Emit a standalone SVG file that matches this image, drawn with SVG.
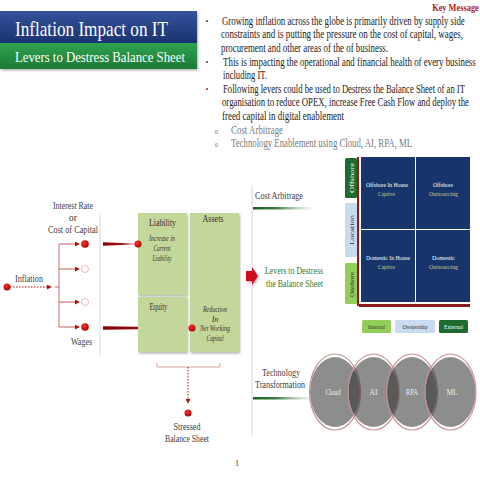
<svg xmlns="http://www.w3.org/2000/svg" width="480" height="480" viewBox="0 0 480 480">
<style>
text{font-family:"Liberation Serif","Times New Roman",serif}
.b{font-size:11.5px;fill:#1a1a1a}
.g{font-size:11.5px;fill:#7a7a7a}
.lbl{font-size:10px;fill:#404040}
.bs{font-size:10px;fill:#333}
.it{font-size:8px;fill:#333;font-style:italic}
.cell{font-size:7px;fill:#fff}
.cell2{font-size:7px;fill:#d8c27c}
.vl{font-size:7px}
.cir{font-size:7.5px;fill:#eee}
.box{fill:#c4d79b;filter:url(#sh)}
.thin{stroke:#d6d6d6;stroke-width:1;fill:none}
</style>
<defs>
<filter id="sh" x="-20%" y="-20%" width="140%" height="140%"><feDropShadow dx="1" dy="1.5" stdDeviation="1.2" flood-color="#000" flood-opacity="0.3"/></filter>
<linearGradient id="blue" x1="0" y1="0" x2="0" y2="1"><stop offset="0" stop-color="#34539b"/><stop offset="1" stop-color="#1b3270"/></linearGradient>
<linearGradient id="green" x1="0" y1="0" x2="0" y2="1"><stop offset="0" stop-color="#2fa350"/><stop offset="1" stop-color="#1c7a36"/></linearGradient>
<linearGradient id="redfade" x1="0" y1="0" x2="1" y2="0"><stop offset="0" stop-color="#8a0000"/><stop offset="0.6" stop-color="#a01818"/><stop offset="1" stop-color="#c06060" stop-opacity="0.6"/></linearGradient>
<linearGradient id="redfade2" x1="0" y1="0" x2="1" y2="0"><stop offset="0" stop-color="#8a0000"/><stop offset="0.5" stop-color="#9a1010"/><stop offset="1" stop-color="#b09070" stop-opacity="0.5"/></linearGradient>
<linearGradient id="gline" x1="0" y1="0" x2="1" y2="0"><stop offset="0" stop-color="#1e5e1e"/><stop offset="0.4" stop-color="#3d7d3d"/><stop offset="1" stop-color="#c8d8c8" stop-opacity="0.3"/></linearGradient>
<radialGradient id="dot" cx="0.4" cy="0.35" r="0.7"><stop offset="0" stop-color="#ff3030"/><stop offset="1" stop-color="#a00000"/></radialGradient>
<marker id="ah" viewBox="0 0 6 6" refX="5" refY="3" markerWidth="5" markerHeight="5" orient="auto"><path d="M0,0 L6,3 L0,6 Z" fill="#b01010"/></marker>
</defs>

<!-- Title banners -->
<g id="title">
<rect x="0" y="11" width="197" height="32" fill="url(#blue)" filter="url(#sh)"/>
<rect x="0" y="43" width="197" height="26" fill="url(#green)" filter="url(#sh)"/>
<g transform="scale(0.86,1)"><text x="17.4" y="36" font-size="20" fill="#fff" textLength="178" lengthAdjust="spacingAndGlyphs">Inflation Impact on IT</text></g>
<g transform="scale(0.85,1)"><text x="17.6" y="62" font-size="15" fill="#fff" textLength="200" lengthAdjust="spacingAndGlyphs">Levers to Destress Balance Sheet</text></g>
</g>

<!-- Key message (horizontally condensed like the reference) -->
<g id="keymessage" transform="scale(0.74,1)">
<text x="647" y="11.5" font-size="10.5" font-weight="bold" fill="#b31b1b" text-anchor="end" textLength="63" lengthAdjust="spacingAndGlyphs">Key Message</text>
<text x="278" y="24" font-size="9" fill="#222">•</text>
<text x="278" y="65" font-size="9" fill="#222">•</text>
<text x="278" y="92" font-size="9" fill="#222">•</text>
<text class="b" x="300" y="25" textLength="328" lengthAdjust="spacingAndGlyphs">Growing inflation across the globe is primarily driven by supply side</text>
<text class="b" x="298.6" y="38" textLength="327" lengthAdjust="spacingAndGlyphs">constraints and is putting the pressure on the cost of capital, wages,</text>
<text class="b" x="298.6" y="52" textLength="225.7" lengthAdjust="spacingAndGlyphs">procurement and other areas of the of business.</text>
<text class="b" x="301.4" y="66" textLength="341.5" lengthAdjust="spacingAndGlyphs">This is impacting  the operational and financial health of every business</text>
<text class="b" x="301.4" y="79" textLength="59.5" lengthAdjust="spacingAndGlyphs">including IT.</text>
<text class="b" x="301.4" y="93" textLength="327" lengthAdjust="spacingAndGlyphs">Following levers could be used to Destress the Balance Sheet of an IT</text>
<text class="b" x="300" y="106" textLength="333.8" lengthAdjust="spacingAndGlyphs">organisation to reduce OPEX, increase Free Cash Flow and deploy the</text>
<text class="b" x="300" y="120" textLength="164.9" lengthAdjust="spacingAndGlyphs">freed capital in digital enablement</text>
<text x="290.5" y="134" font-size="8" fill="#a04a4a">o</text>
<text x="290.5" y="147" font-size="8" fill="#a04a4a">o</text>
<text class="g" x="312.2" y="134" textLength="70.3" lengthAdjust="spacingAndGlyphs">Cost Arbitrage</text>
<text class="g" x="312.2" y="147" textLength="244.6" lengthAdjust="spacingAndGlyphs">Technology Enablement using Cloud, AI, RPA, ML</text>
</g>

<!-- separators -->
<g id="separators">
<line class="thin" x1="100" y1="215" x2="100" y2="355"/>
<line class="thin" x1="252" y1="185" x2="252" y2="435"/>
</g>

<!-- connectors -->
<g id="connectors" fill="none">
<line x1="10" y1="287" x2="51" y2="287" stroke="#b01010" stroke-width="1" stroke-dasharray="1.5,1.5" marker-end="url(#ah)"/>
<line x1="55" y1="287" x2="59" y2="287" stroke="#c06060" stroke-width="1"/>
<line x1="59" y1="244" x2="59" y2="327" stroke="#c87070" stroke-width="1"/>
<line x1="59" y1="244" x2="79" y2="244" stroke="#c06060" stroke-width="1" marker-end="url(#ah)"/>
<line x1="59" y1="269" x2="79" y2="269" stroke="#c06060" stroke-width="1" marker-end="url(#ah)"/>
<line x1="59" y1="302" x2="79" y2="302" stroke="#c06060" stroke-width="1" marker-end="url(#ah)"/>
<line x1="59" y1="327" x2="79" y2="327" stroke="#c06060" stroke-width="1" marker-end="url(#ah)"/>
<polygon points="103,242.3 135,243.6 135,244.4 103,245.7" fill="url(#redfade)"/>
<polygon points="103,326.3 188,327.6 188,328.4 103,329.7" fill="url(#redfade2)"/>
<path d="M157,363 V367 H220 V363" stroke="#d8a0a0" stroke-width="1"/>
<line x1="188" y1="367" x2="188" y2="403" stroke="#b01010" stroke-width="1" stroke-dasharray="1.5,1.5" marker-end="url(#ah)"/>
<rect x="253" y="207" width="58" height="2.5" fill="url(#gline)"/>
<rect x="253" y="397" width="58" height="2.5" fill="url(#gline)"/>
<path d="M246,271 L252,271 L252,267 L258,276 L252,285 L252,281 L246,281 Z" fill="#d0101a" filter="url(#sh)" stroke="none"/>
</g>

<!-- left driver nodes -->
<g id="inflation">
<circle cx="7" cy="287" r="3.5" fill="url(#dot)"/>
<text class="lbl" x="15" y="282" textLength="28" lengthAdjust="spacingAndGlyphs">Inflation</text>
</g>
<g id="interest">
<circle cx="85" cy="244" r="3.8" fill="url(#dot)"/>
<text class="lbl" x="73" y="209" text-anchor="middle" textLength="40" lengthAdjust="spacingAndGlyphs">Interest Rate</text>
<text class="lbl" x="73" y="221" text-anchor="middle">or</text>
<text class="lbl" x="73" y="233" text-anchor="middle" textLength="50" lengthAdjust="spacingAndGlyphs">Cost of Capital</text>
</g>
<g id="driver2"><circle cx="85" cy="269" r="3.5" fill="#fff" stroke="#f0b8b8" stroke-width="1"/></g>
<g id="driver3"><circle cx="85" cy="302" r="3.5" fill="#fff" stroke="#f0b8b8" stroke-width="1"/></g>
<g id="wages">
<circle cx="85" cy="327" r="3.8" fill="url(#dot)"/>
<text class="lbl" x="81.5" y="345" text-anchor="middle" textLength="21" lengthAdjust="spacingAndGlyphs">Wages</text>
</g>

<!-- balance sheet -->
<g id="liability">
<rect class="box" x="138" y="213" width="49" height="82"/>
<text class="bs" x="162.5" y="226" text-anchor="middle" textLength="27" lengthAdjust="spacingAndGlyphs">Liability</text>
<text class="it" x="162" y="241" text-anchor="middle" textLength="26" lengthAdjust="spacingAndGlyphs">Increase in</text>
<text class="it" x="162" y="251" text-anchor="middle" textLength="17" lengthAdjust="spacingAndGlyphs">Current</text>
<text class="it" x="162" y="261" text-anchor="middle" textLength="19" lengthAdjust="spacingAndGlyphs">Liability</text>
<circle cx="138" cy="244" r="3.5" fill="url(#dot)"/>
</g>
<g id="equity">
<rect class="box" x="138" y="297" width="49" height="55"/>
<text class="bs" x="158.5" y="310" text-anchor="middle" textLength="18" lengthAdjust="spacingAndGlyphs">Equity</text>
</g>
<g id="assets">
<rect class="box" x="190" y="213" width="49" height="139"/>
<text class="bs" x="213" y="222" text-anchor="middle" textLength="21" lengthAdjust="spacingAndGlyphs">Assets</text>
<text class="it" x="215" y="312" text-anchor="middle" textLength="24" lengthAdjust="spacingAndGlyphs">Reduction</text>
<text class="it" x="215" y="322" text-anchor="middle">In</text>
<text class="it" x="215" y="331" text-anchor="middle" textLength="30" lengthAdjust="spacingAndGlyphs">Net Working</text>
<text class="it" x="215" y="341" text-anchor="middle" textLength="17" lengthAdjust="spacingAndGlyphs">Capital</text>
<circle cx="192" cy="328" r="3.5" fill="url(#dot)"/>
</g>
<g id="stressed">
<circle cx="188" cy="413" r="3.5" fill="url(#dot)"/>
<text class="lbl" x="187" y="430" text-anchor="middle" textLength="27" lengthAdjust="spacingAndGlyphs">Stressed</text>
<text class="lbl" x="187" y="442" text-anchor="middle" textLength="44" lengthAdjust="spacingAndGlyphs">Balance Sheet</text>
</g>

<!-- levers -->
<g id="levers">
<text x="265" y="274" font-size="10" fill="#2f7a2f" textLength="58" lengthAdjust="spacingAndGlyphs">Levers to Destress</text>
<text x="266" y="287" font-size="10" fill="#2f7a2f" textLength="57" lengthAdjust="spacingAndGlyphs">the  Balance Sheet</text>
</g>
<g id="costarbitrage">
<text class="lbl" x="255" y="199" textLength="48" lengthAdjust="spacingAndGlyphs">Cost Arbitrage</text>
</g>
<g id="techtransformation">
<text class="lbl" x="281" y="376" text-anchor="middle" textLength="38" lengthAdjust="spacingAndGlyphs">Technology</text>
<text class="lbl" x="280" y="388" text-anchor="middle" textLength="50" lengthAdjust="spacingAndGlyphs">Transformation</text>
</g>

<!-- matrix -->
<g id="matrix">
<line x1="358" y1="157" x2="358" y2="306" stroke="#8b1a1a" stroke-width="2"/>
<rect x="359" y="304" width="111" height="3" fill="#8b1a1a"/>
<rect x="361" y="157" width="54" height="72" fill="#17356b"/>
<rect x="416" y="157" width="54" height="72" fill="#17356b"/>
<rect x="361" y="230" width="54" height="72" fill="#17356b"/>
<rect x="416" y="230" width="54" height="72" fill="#17356b"/>
<text class="cell" x="387" y="187" text-anchor="middle" textLength="42" lengthAdjust="spacingAndGlyphs">Offshore In House</text>
<text class="cell2" x="386.5" y="196" text-anchor="middle" textLength="17" lengthAdjust="spacingAndGlyphs">Captive</text>
<text class="cell" x="443" y="187" text-anchor="middle" textLength="20" lengthAdjust="spacingAndGlyphs">Offshore</text>
<text class="cell2" x="443.5" y="196" text-anchor="middle" textLength="29" lengthAdjust="spacingAndGlyphs">Outsourcing</text>
<text class="cell" x="388" y="260" text-anchor="middle" textLength="44" lengthAdjust="spacingAndGlyphs">Domestic In House</text>
<text class="cell2" x="386.5" y="269" text-anchor="middle" textLength="17" lengthAdjust="spacingAndGlyphs">Captive</text>
<text class="cell" x="443.5" y="260" text-anchor="middle" textLength="23" lengthAdjust="spacingAndGlyphs">Domestic</text>
<text class="cell2" x="443.5" y="269" text-anchor="middle" textLength="29" lengthAdjust="spacingAndGlyphs">Outsourcing</text>
</g>
<g id="offshore">
<rect x="345" y="158" width="12" height="40" rx="1.5" fill="#1d6b2f"/>
<text class="vl" transform="translate(353.5,178) rotate(-90)" text-anchor="middle" fill="#fff" textLength="30" lengthAdjust="spacingAndGlyphs">Offshore</text>
</g>
<g id="location">
<rect x="345" y="203" width="12" height="54" rx="1.5" fill="#c9dbf0"/>
<text class="vl" transform="translate(353.5,230) rotate(-90)" text-anchor="middle" fill="#333" textLength="30" lengthAdjust="spacingAndGlyphs">Location</text>
</g>
<g id="onshore">
<rect x="345" y="263" width="12" height="41" rx="1.5" fill="#92cf5a"/>
<text class="vl" transform="translate(353.5,284.5) rotate(-90)" text-anchor="middle" fill="#333" textLength="25" lengthAdjust="spacingAndGlyphs">Onshore</text>
</g>
<g id="internal">
<rect x="362" y="320" width="29" height="13" rx="1.5" fill="#92cf5a"/>
<text class="vl" x="376.5" y="329" text-anchor="middle" fill="#333" textLength="17" lengthAdjust="spacingAndGlyphs">Internal</text>
</g>
<g id="ownership">
<rect x="395" y="320" width="40" height="13" rx="1.5" fill="#c9dbf0"/>
<text class="vl" x="415" y="329" text-anchor="middle" fill="#333" textLength="25" lengthAdjust="spacingAndGlyphs">Ownership</text>
</g>
<g id="external">
<rect x="439" y="320" width="29" height="13" rx="1.5" fill="#1d6b2f"/>
<text class="vl" x="453.5" y="329" text-anchor="middle" fill="#fff" textLength="19" lengthAdjust="spacingAndGlyphs">External</text>
</g>

<!-- tech circles -->
<g id="cloud">
<ellipse cx="335" cy="392" rx="25" ry="35" fill="#303030" fill-opacity="0.55"/>
<ellipse cx="335" cy="392" rx="25.5" ry="38" fill="none" stroke="#c99090" stroke-width="1.2"/>
<text class="cir" x="333" y="395" text-anchor="middle" textLength="15" lengthAdjust="spacingAndGlyphs">Cloud</text>
</g>
<g id="ai">
<ellipse cx="373.5" cy="392" rx="25" ry="35" fill="#303030" fill-opacity="0.55"/>
<ellipse cx="373.5" cy="392" rx="25.5" ry="38" fill="none" stroke="#c99090" stroke-width="1.2"/>
<text class="cir" x="373.5" y="395" text-anchor="middle">AI</text>
</g>
<g id="rpa">
<ellipse cx="412" cy="392" rx="25" ry="35" fill="#303030" fill-opacity="0.55"/>
<ellipse cx="412" cy="392" rx="25.5" ry="38" fill="none" stroke="#c99090" stroke-width="1.2"/>
<text class="cir" x="412" y="395" text-anchor="middle" textLength="12" lengthAdjust="spacingAndGlyphs">RPA</text>
</g>
<g id="ml">
<ellipse cx="450.5" cy="392" rx="25" ry="35" fill="#303030" fill-opacity="0.55"/>
<ellipse cx="450.5" cy="392" rx="25.5" ry="38" fill="none" stroke="#c99090" stroke-width="1.2"/>
<text class="cir" x="452" y="395" text-anchor="middle">ML</text>
</g>

<text x="237" y="466" font-size="8" fill="#444" text-anchor="middle">1</text>
</svg>
